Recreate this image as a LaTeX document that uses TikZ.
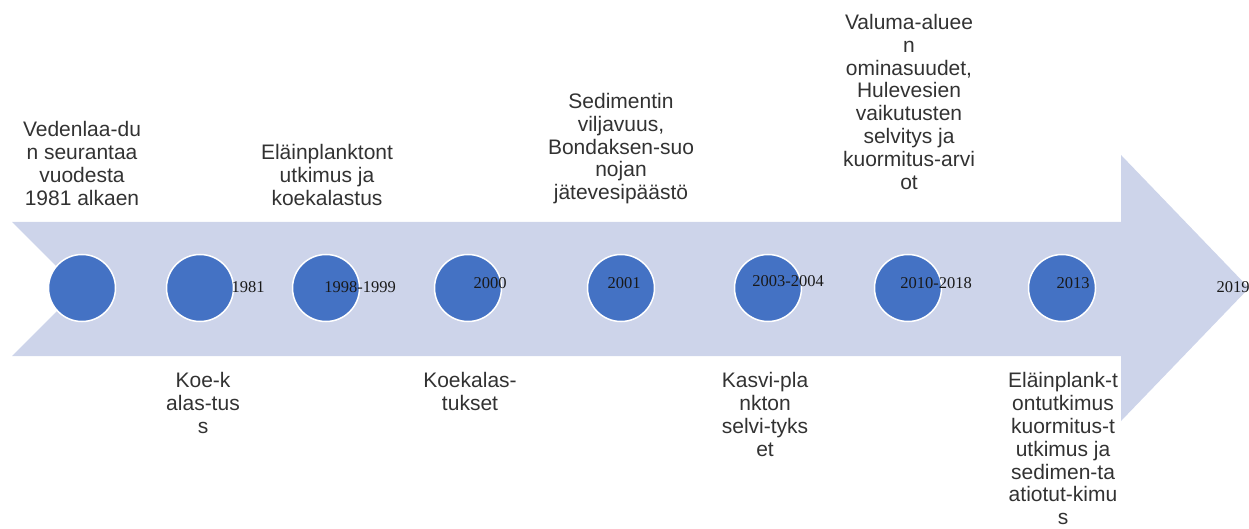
\documentclass[tikz,border=0pt]{standalone}
\usepackage{fontspec}
\setmainfont{Liberation Sans}
\newfontfamily\yearfont{Liberation Serif}
\definecolor{arrowfill}{RGB}{205,212,234}
\definecolor{dotblue}{RGB}{68,114,196}
\definecolor{txt}{RGB}{50,50,50}
\begin{document}
\begin{tikzpicture}[x=1pt,y=-1pt,
  dot/.style={circle, fill=dotblue, draw=white, line width=1.5pt, minimum size=67pt, inner sep=0pt},
  yr/.style={font=\yearfont\fontsize{16.5}{18}\selectfont, text=black!90, inner sep=0pt},
  lbl/.style={font=\fontsize{21}{22.8}\selectfont, text=txt, align=center, inner sep=0pt, anchor=north}]
\useasboundingbox (0,0) rectangle (1249,529);
% timeline arrow
\fill[arrowfill] (12,222) -- (1121,222) -- (1121,155) -- (1249,288) -- (1121,421)
  -- (1121,356) -- (12,356) -- (79,289) -- cycle;
% circles
\node[dot] (c1) at (82,288) {};
\node[dot] (c2) at (200,288) {};
\node[dot] (c3) at (326,288) {};
\node[dot] (c4) at (468,288) {};
\node[dot] (c5) at (621,288) {};
\node[dot] (c6) at (768,288) {};
\node[dot] (c7) at (908,288) {};
\node[dot] (c8) at (1062,288) {};
% years
\node[yr] (y2) at (248,287) {1981};
\node[yr] (y3) at (360,287) {1998-1999};
\node[yr] (y4) at (490,283) {2000};
\node[yr] (y5) at (624,283) {2001};
\node[yr] (y6) at (788,281) {2003-2004};
\node[yr] (y7) at (936,283) {2010-2018};
\node[yr] (y8) at (1073,283) {2013};
\node[yr] (y9) at (1233,287) {2019};
% labels above
\node[lbl] (t1) at (82,121.5) {Vedenlaa-du\\n seurantaa\\vuodesta\\1981 alkaen};
\node[lbl] (t2) at (327,144.5) {Eläinplanktont\\utkimus ja\\koekalastus};
\node[lbl] (t3) at (621,93) {Sedimentin\\viljavuus,\\Bondaksen-suo\\nojan\\jätevesipäästö};
\node[lbl] (t4) at (909,14) {Valuma-aluee\\n\\ominasuudet,\\Hulevesien\\vaikutusten\\selvitys ja\\kuormitus-arvi\\ot};
% labels below
\node[lbl] (t5) at (203,372.5) {Koe-k\\alas-tus\\s};
\node[lbl] (t6) at (470,372.5) {Koekalas-\\tukset};
\node[lbl] (t7) at (765,372.5) {Kasvi-pla\\nkton\\selvi-tyks\\et};
\node[lbl] (t8) at (1063,372.5) {Eläinplank-t\\ontutkimus\\kuormitus-t\\utkimus ja\\sedimen-ta\\atiotut-kimu\\s};
\end{tikzpicture}
\end{document}
